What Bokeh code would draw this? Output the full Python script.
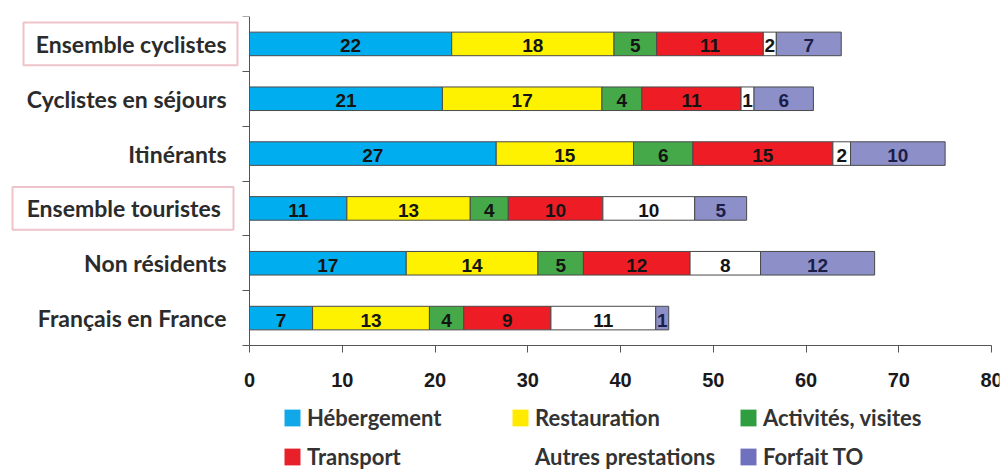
import numpy as np
from bokeh.plotting import figure
from bokeh.models import (Range1d, LinearAxis, FixedTicker,
                          ColumnDataSource, Legend, LegendItem, BoxAnnotation)
from bokeh.core.properties import value
from bokeh.embed import file_html
from bokeh.resources import INLINE

# ---------------- data ----------------
categories = ["Ensemble cyclistes", "Cyclistes en séjours", "Itinérants",
              "Ensemble  touristes", "Non résidents", "Français en France"]
series = ["Hébergement", "Restauration", "Activités, visites",
          "Transport", "Autres prestations", "Forfait TO"]

hebergement = [21.8, 20.8, 26.6, 10.5, 16.9, 6.8]
restauration = [17.5, 17.2, 14.8, 13.3, 14.2, 12.6]
activites = [4.6, 4.3, 6.4, 4.1, 4.9, 3.7]
transport = [11.5, 10.7, 15.1, 10.2, 11.5, 9.4]
autres = [1.4, 1.4, 1.9, 9.9, 7.6, 11.3]
forfait = [7.0, 6.4, 10.2, 5.6, 12.3, 1.4]

lab_hebergement = ["22", "21", "27", "11", "17", "7"]
lab_restauration = ["18", "17", "15", "13", "14", "13"]
lab_activites = ["5", "4", "6", "4", "5", "4"]
lab_transport = ["11", "11", "15", "10", "12", "9"]
lab_autres = ["2", "1", "2", "10", "8", "11"]
lab_forfait = ["7", "6", "10", "5", "12", "1"]

x_ticks = [0, 10, 20, 30, 40, 50, 60, 70, 80]
highlighted = ["Ensemble cyclistes", "Ensemble  touristes"]

# ---------------- styles / layout ----------------
bar_colors = ["#00ADEF", "#FFF200", "#46A949", "#EE1C25", "#FFFFFF", "#8C8FC8"]
legend_colors = ["#10A8E8", "#FFEA00", "#2F9E40", "#E8202A", "#FFFFFF", "#6F70BE"]
text_colors = ["#141414", "#141414", "#141414", "#141414", "#141414", "#1B1E48"]

FRAME_L, FRAME_R, FRAME_T, FRAME_B = 8, 999, 16, 470
AX0_PX, AX80_PX = 249, 991          # pixel positions of x = 0 and x = 80
AXIS_Y_PX = 345                     # pixel position of the x axis line
ppu = (AX80_PX - AX0_PX) / 80.0
xmin = -(AX0_PX - FRAME_L) / ppu
xmax = 80 + (FRAME_R - AX80_PX) / ppu

def px_to_x(px):
    return (px - AX0_PX) / ppu

values_all = [hebergement, restauration, activites, transport, autres, forfait]
labels_all = [lab_hebergement, lab_restauration, lab_activites, lab_transport, lab_autres, lab_forfait]

n = len(categories)
ypos = [n - 1 - i + 0.5 for i in range(n)]  # row centres, first category on top
ppu_y = (AXIS_Y_PX - FRAME_T) / n
ymin = -(FRAME_B - AXIS_Y_PX) / ppu_y

p = figure(frame_width=FRAME_R - FRAME_L, frame_height=FRAME_B - FRAME_T,
           y_range=Range1d(ymin, n), x_range=Range1d(xmin, xmax),
           output_backend="svg", toolbar_location=None,
           y_axis_location=None,
           min_border_left=FRAME_L, min_border_right=8,
           min_border_top=FRAME_T, min_border_bottom=0)
p.outline_line_color = None
p.grid.grid_line_color = None
p.background_fill_color = "white"
p.border_fill_color = "white"

# bars
vals = np.array(values_all)
rights = np.cumsum(vals, axis=0)
lefts = rights - vals
sources = []
for i, name in enumerate(series):
    src = ColumnDataSource(dict(y=ypos, left=lefts[i], right=rights[i],
                                mid=(lefts[i] + rights[i]) / 2, lab=labels_all[i]))
    sources.append(src)
    p.hbar(y="y", left="left", right="right", height=0.43, source=src,
           fill_color=bar_colors[i], line_color="#4a4a4a", line_width=1)
    p.text(x="mid", y="y", text="lab", source=src, text_align="center",
           text_baseline="middle", y_offset=2,
           text_font=value("Liberation Sans"), text_font_style="bold",
           text_font_size="19px", text_color=text_colors[i])

# x axis at y = 0, line only from 0 to 80
p.xaxis.fixed_location = 0
p.xaxis.bounds = (0, 80)
p.xaxis.ticker = FixedTicker(ticks=x_ticks)
p.xaxis.major_tick_out = 7
p.xaxis.major_tick_in = 0
p.xaxis.minor_tick_line_color = None
p.xaxis.axis_line_color = "#555555"
p.xaxis.major_tick_line_color = "#555555"
p.xaxis.major_label_text_font = "Liberation Sans"
p.xaxis.major_label_text_font_style = "bold"
p.xaxis.major_label_text_font_size = "20px"
p.xaxis.major_label_text_color = "#1a1a1a"
p.xaxis.major_label_standoff = 20

# y axis at x = 0 with ticks at the category boundaries
bounds = list(range(n + 1))
y_axis = LinearAxis(ticker=FixedTicker(ticks=bounds), fixed_location=0, bounds=(0, n),
                    major_label_overrides={b: "" for b in bounds},
                    major_label_text_font_size="0px",
                    major_tick_out=7, major_tick_in=0, major_label_standoff=0,
                    minor_tick_line_color=None,
                    axis_line_color="#555555", major_tick_line_color="#555555")
p.add_layout(y_axis, "left")

# category labels, right-aligned just left of the axis
p.text(x=[0] * n, y=ypos, text=categories, text_align="right", text_baseline="middle",
       x_offset=-23, text_font=value("Lato"), text_font_style="bold",
       text_font_size="23px", text_color="#2b2b2b")

# highlight boxes
box_px = {"Ensemble cyclistes": (23, 237), "Ensemble  touristes": (12, 233)}
for c in highlighted:
    yc = ypos[categories.index(c)]
    l, r = box_px[c]
    p.add_layout(BoxAnnotation(left=px_to_x(l), right=px_to_x(r),
                               top=yc + 0.39, bottom=yc - 0.39,
                               fill_color=None, fill_alpha=0, line_color="#C8384F",
                               line_width=2))

# legend (swatches come from zero-height copies of the bars)
items = []
for i, name in enumerate(series):
    r = p.hbar(y="y", left="left", right="right", height=0, source=sources[i],
               fill_color=legend_colors[i], line_color=None)
    items.append(LegendItem(label=name, renderers=[r]))
legend = Legend(items=items, location=(282 - FRAME_L, 0), orientation="horizontal", ncols=3,
                glyph_width=20, glyph_height=21, label_height=21, label_width=191,
                spacing=12, label_standoff=5, padding=0, margin=0,
                border_line_color=None, background_fill_color=None,
                label_text_font="Lato", label_text_font_style="bold",
                label_text_font_size="22px", label_text_color="#333333")
p.add_layout(legend)

open("out.html", "w").write(file_html(p, INLINE))
